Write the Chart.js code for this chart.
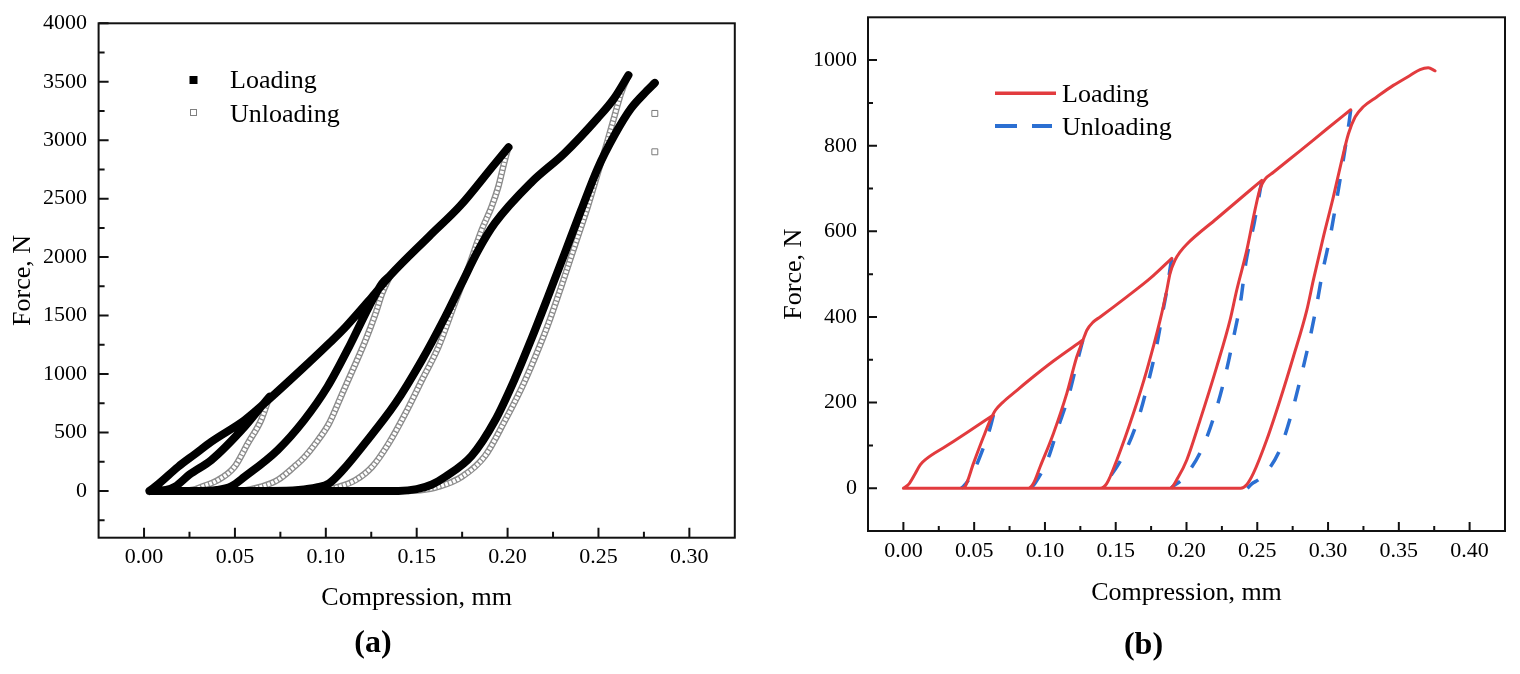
<!DOCTYPE html>
<html>
<head>
<meta charset="utf-8">
<script src="https://cdn.jsdelivr.net/npm/chart.js@4.4.1/dist/chart.umd.min.js"></script>
<style>
  html, body { margin: 0; padding: 0; background: #fff; }
  body { width: 1520px; height: 674px; position: relative; overflow: hidden; }
  .panel { position: absolute; top: 0; height: 674px; }
</style>
</head>
<body>
<div class="panel" style="left:0;width:740px"><canvas id="chartA" width="740" height="674"></canvas></div>
<div class="panel" style="left:760px;width:760px"><canvas id="chartB" width="760" height="674"></canvas></div>
<script>
// ---------------- Panel (a) data: [compression mm, force N] ----------------
const aLoadE  = [[0.003,0],[0.008,60],[0.0188,207],[0.028,315],[0.037,421],[0.0553,606],[0.0662,749],[0.0863,1034],[0.1018,1262],[0.111,1405],[0.1255,1661],[0.1355,1845],[0.157,2180],[0.174,2440],[0.192,2780],[0.2005,2940]];
const aLoadR1 = [[0.003,0],[0.012,8],[0.017,36],[0.025,140],[0.037,264],[0.0553,549],[0.0644,720],[0.069,806]];
const aLoadR2 = [[0.003,0],[0.03,0],[0.04,8],[0.048,40],[0.0553,121],[0.0735,350],[0.0881,606],[0.1009,891],[0.1128,1233],[0.1237,1575],[0.131,1776],[0.1355,1845]];
const aLoadR3 = [[0.003,0],[0.07,0],[0.085,8],[0.095,30],[0.1018,65],[0.11,190],[0.12,378],[0.1383,749],[0.1529,1120],[0.1657,1490],[0.1748,1776],[0.1839,2060],[0.193,2290],[0.2131,2640],[0.2314,2890],[0.2496,3190],[0.2587,3360],[0.2665,3557]];
const aLoadR4 = [[0.003,0],[0.14,0],[0.15,15],[0.1584,55],[0.1657,121],[0.1802,300],[0.193,600],[0.204,960],[0.2131,1300],[0.2222,1660],[0.2314,2032],[0.2405,2403],[0.2496,2760],[0.2587,3040],[0.2678,3270],[0.2765,3420],[0.281,3490]];

const aUnload1 = [[0.069,806],[0.0644,606],[0.0571,407],[0.0498,207],[0.0407,93],[0.0316,36],[0.027,10],[0.02,0]];
const aUnload2 = [[0.1355,1845],[0.131,1690],[0.1274,1519],[0.1219,1291],[0.1164,1091],[0.1091,835],[0.1018,578],[0.095,420],[0.088,285],[0.0826,207],[0.0735,93],[0.0644,36],[0.055,5],[0.048,0]];
const aUnload3 = [[0.2005,2940],[0.1985,2830],[0.1949,2602],[0.1912,2431],[0.1857,2231],[0.1784,1910],[0.1711,1610],[0.162,1233],[0.1529,949],[0.1438,664],[0.1346,407],[0.1255,207],[0.1164,93],[0.1073,36],[0.098,8],[0.09,0]];
const aUnload4 = [[0.2665,3557],[0.2624,3400],[0.2587,3200],[0.2551,3001],[0.2496,2716],[0.2441,2431],[0.2368,2089],[0.2295,1747],[0.2222,1420],[0.2149,1135],[0.2076,877],[0.1985,600],[0.1876,300],[0.1748,121],[0.162,36],[0.152,5],[0.145,0]];
const aUnload5 = [[0.281,3229],[0.281,2901]];

const aXTicks = [0, 0.05, 0.10, 0.15, 0.20, 0.25, 0.30];
const aXMinor = [0.025, 0.075, 0.125, 0.175, 0.225, 0.275];
const aYTicks = [0, 500, 1000, 1500, 2000, 2500, 3000, 3500, 4000];
const aYMinor = [-250, 250, 750, 1250, 1750, 2250, 2750, 3250, 3750];

// ---------------- Panel (b) data ----------------
const bLoad0 = [[0,0],[0.004,10],[0.008,32],[0.012,55],[0.016,68],[0.03,98],[0.045,130],[0.0636,171]];
const bLoad1 = [[0,0],[0.0412,0],[0.0436,4],[0.0495,58],[0.0566,120],[0.0615,160],[0.065,182],[0.07,200],[0.08,228],[0.0872,248],[0.106,297],[0.1268,346]];
const bLoad2 = [[0,0],[0.0884,0],[0.092,12],[0.0966,50],[0.106,128],[0.1155,222],[0.1225,307],[0.1268,345],[0.1296,369],[0.134,388],[0.139,400],[0.1578,447],[0.1743,490],[0.1896,537]];
const bLoad3 = [[0,0],[0.139,0],[0.1435,10],[0.1508,66],[0.1625,175],[0.172,276],[0.1814,393],[0.1861,463],[0.1884,502],[0.1919,533],[0.1955,552],[0.2002,570],[0.2214,630],[0.2449,696],[0.2532,719]];
const bLoad4 = [[0,0],[0.1884,0],[0.194,25],[0.2002,66],[0.2096,159],[0.2214,284],[0.2308,393],[0.2355,463],[0.2426,556],[0.2484,650],[0.252,700],[0.2555,722],[0.2614,738],[0.2802,788],[0.2991,839],[0.316,884]];
const bLoad5 = [[0,0],[0.2383,0],[0.2425,8],[0.2473,35],[0.2567,113],[0.2661,206],[0.2755,307],[0.285,416],[0.2896,486],[0.2967,587],[0.3037,680],[0.3097,766],[0.3144,828],[0.3191,867],[0.3249,891],[0.3344,914],[0.3461,941],[0.3579,964],[0.365,978],[0.3708,982],[0.3756,975]];

const bUnload1 = [[0.0636,171],[0.062,150],[0.0601,128],[0.0554,85],[0.0507,47],[0.046,19],[0.0424,4],[0.041,0]];
const bUnload2 = [[0.1268,346],[0.1237,307],[0.1166,214],[0.1095,144],[0.1018,66],[0.0931,12],[0.09,0]];
const bUnload3 = [[0.1896,537],[0.1885,515],[0.1865,470],[0.1837,420],[0.179,334],[0.1731,249],[0.166,163],[0.1559,80],[0.143,13],[0.14,0]];
const bUnload4 = [[0.2532,719],[0.252,696],[0.2479,621],[0.2419,526],[0.2383,438],[0.2331,350],[0.2273,262],[0.2202,176],[0.2115,96],[0.1978,23],[0.1907,5],[0.189,0]];
const bUnload5 = [[0.316,884],[0.315,858],[0.3113,778],[0.3066,684],[0.3019,595],[0.2963,508],[0.2915,420],[0.2861,334],[0.2797,245],[0.2732,163],[0.2649,82],[0.252,23],[0.2461,10],[0.243,0]];

const bXTicks = [0, 0.05, 0.10, 0.15, 0.20, 0.25, 0.30, 0.35, 0.40];
const bXMinor = [0.025, 0.075, 0.125, 0.175, 0.225, 0.275, 0.325, 0.375];
const bYTicks = [0, 200, 400, 600, 800, 1000];
const bYMinor = [100, 300, 500, 700, 900];

// ---------------- helpers ----------------
function joinSegments(segs) {
  const out = [];
  segs.forEach((s, i) => {
    if (i > 0) out.push({ x: s[0][0], y: null });
    s.forEach(p => out.push({ x: p[0], y: p[1] }));
  });
  return out;
}
function toPoints(seg) { return seg.map(p => ({ x: p[0], y: p[1] })); }
function setTicks(values) { return scale => { scale.ticks = values.map(v => ({ value: v })); }; }
function fixSize(prop, size) {
  return scale => {
    scale[prop] = size;
    scale.paddingTop = 0; scale.paddingBottom = 0;
    scale.paddingLeft = 0; scale.paddingRight = 0;
  };
}

Chart.defaults.font.family = "'Liberation Serif', 'Times New Roman', serif";
Chart.defaults.color = '#000';

const frameTicks = {
  id: 'frameTicks',
  afterDatasetsDraw(chart, args, opts) {
    const { ctx, chartArea: a, scales: { x, y } } = chart;
    ctx.save();
    ctx.strokeStyle = '#111';
    ctx.lineWidth = 2;
    ctx.beginPath();
    x.ticks.forEach(t => { const p = x.getPixelForValue(t.value); ctx.moveTo(p, a.bottom); ctx.lineTo(p, a.bottom - opts.major); });
    opts.xMinor.forEach(v => { const p = x.getPixelForValue(v); ctx.moveTo(p, a.bottom); ctx.lineTo(p, a.bottom - opts.minor); });
    y.ticks.forEach(t => { const p = y.getPixelForValue(t.value); ctx.moveTo(a.left, p); ctx.lineTo(a.left + opts.major, p); });
    opts.yMinor.forEach(v => { const p = y.getPixelForValue(v); ctx.moveTo(a.left, p); ctx.lineTo(a.left + opts.minor, p); });
    ctx.stroke();
    ctx.strokeRect(a.left, a.top, a.right - a.left, a.bottom - a.top);
    ctx.restore();
  }
};

const innerLegend = {
  id: 'innerLegend',
  afterDraw(chart, args, opts) {
    const ctx = chart.ctx;
    ctx.save();
    opts.items.forEach(it => {
      const ds = chart.data.datasets[it.dataset];
      if (it.kind === 'filled') {
        ctx.fillStyle = '#000';
        ctx.fillRect(it.sx - it.size / 2, it.sy - it.size / 2, it.size, it.size);
      } else if (it.kind === 'hollow') {
        ctx.fillStyle = '#fff';
        ctx.strokeStyle = '#808080';
        ctx.lineWidth = 1;
        ctx.fillRect(it.sx - it.size / 2, it.sy - it.size / 2, it.size, it.size);
        ctx.strokeRect(it.sx - it.size / 2 + 0.5, it.sy - it.size / 2 + 0.5, it.size - 1, it.size - 1);
      } else if (it.kind === 'line') {
        ctx.strokeStyle = ds.borderColor;
        ctx.lineWidth = it.width;
        ctx.setLineDash(it.dash || []);
        ctx.beginPath();
        ctx.moveTo(it.x1, it.sy);
        ctx.lineTo(it.x2, it.sy);
        ctx.stroke();
        ctx.setLineDash([]);
      }
      ctx.fillStyle = '#000';
      ctx.font = opts.font;
      ctx.textBaseline = 'alphabetic';
      ctx.textAlign = 'left';
      ctx.fillText(ds.label, it.tx, it.ty);
    });
    ctx.restore();
  }
};

// ---------------- Chart (a) ----------------
const aLoadingData = joinSegments([aLoadE, aLoadR1, aLoadR2, aLoadR3, aLoadR4]);
const aUnloadingData = joinSegments([aUnload1, aUnload2, aUnload3, aUnload4]);

new Chart(document.getElementById('chartA'), {
  type: 'scatter',
  data: {
    datasets: [
      { label: 'Loading', data: aLoadingData, showLine: true, borderColor: '#000', backgroundColor: '#000',
        borderWidth: 8, pointRadius: 0, cubicInterpolationMode: 'monotone', borderCapStyle: 'round', borderJoinStyle: 'round' },
      { label: 'Unloading', data: aUnloadingData, showLine: true, borderColor: '#ffffff',
        borderWidth: 3.8, borderDash: [2.8, 1.3], pointRadius: 0, cubicInterpolationMode: 'monotone' },
      { label: 'Unloading', data: aUnloadingData, showLine: true, borderColor: '#8c8c8c',
        borderWidth: 6.5, pointRadius: 0, cubicInterpolationMode: 'monotone' },
      { label: 'Unloading', data: toPoints(aUnload5), showLine: false, pointStyle: 'rect', pointRadius: 4.2,
        pointBackgroundColor: '#fff', pointBorderColor: '#7a7a7a', pointBorderWidth: 1 }
    ]
  },
  options: {
    responsive: false,
    animation: false,
    layout: { padding: { left: 8, top: 23.3, right: 2, bottom: 0 } },
    scales: {
      x: {
        type: 'linear', min: -0.025, max: 0.325,
        grid: { display: false, drawTicks: false }, border: { display: false },
        ticks: { font: { size: 22 }, padding: 6.7, maxRotation: 0, autoSkip: false, color: '#000',
                 callback: v => Number(v).toFixed(2) },
        afterBuildTicks: setTicks(aXTicks),
        afterFit: fixSize('height', 80.1),
        title: { display: true, text: 'Compression, mm', font: { size: 26 }, color: '#000', padding: { top: 0, bottom: 4.0 } }
      },
      y: {
        type: 'linear', min: -400, max: 4000,
        grid: { display: false, drawTicks: false }, border: { display: false },
        ticks: { font: { size: 22 }, padding: 11.6, color: '#000', callback: v => String(v) },
        afterBuildTicks: setTicks(aYTicks),
        afterFit: fixSize('width', 90.6),
        title: { display: true, text: 'Force, N', font: { size: 26, lineHeight: 0.8 }, color: '#000', padding: { top: 4.3, bottom: 0 } }
      }
    },
    plugins: {
      legend: { display: false },
      tooltip: { enabled: false },
      title: { display: true, position: 'bottom', text: '(a)', color: '#000',
               font: { size: 32, weight: 'bold' }, padding: { top: 7, bottom: 10.8 } },
      frameTicks: { major: 10, minor: 6, xMinor: aXMinor, yMinor: aYMinor },
      innerLegend: {
        font: "26px 'Liberation Serif', 'Times New Roman', serif",
        items: [
          { dataset: 0, kind: 'filled', sx: 193.5, sy: 80, size: 8, tx: 230, ty: 88.4 },
          { dataset: 2, kind: 'hollow', sx: 193.5, sy: 112.5, size: 7, tx: 230, ty: 121.7 }
        ]
      }
    }
  },
  plugins: [frameTicks, innerLegend]
});

// ---------------- Chart (b) ----------------
const bLoadingData = joinSegments([bLoad0, bLoad1, bLoad2, bLoad3, bLoad4, bLoad5]);
const bUnloadingData = joinSegments([bUnload1, bUnload2, bUnload3, bUnload4, bUnload5]);

new Chart(document.getElementById('chartB'), {
  type: 'scatter',
  data: {
    datasets: [
      { label: 'Loading', data: bLoadingData, showLine: true, borderColor: '#e23b3e',
        borderWidth: 3, pointRadius: 0, cubicInterpolationMode: 'monotone', borderCapStyle: 'round', borderJoinStyle: 'round' },
      { label: 'Unloading', data: bUnloadingData, showLine: true, borderColor: '#2b6fd2',
        borderWidth: 3.5, borderDash: [17, 18], pointRadius: 0, cubicInterpolationMode: 'monotone' }
    ]
  },
  options: {
    responsive: false,
    animation: false,
    layout: { padding: { left: 22, top: 17.3, right: 15, bottom: 0 } },
    scales: {
      x: {
        type: 'linear', min: -0.025, max: 0.425,
        grid: { display: false, drawTicks: false }, border: { display: false },
        ticks: { font: { size: 22 }, padding: 7.4, maxRotation: 0, autoSkip: false, color: '#000',
                 callback: v => Number(v).toFixed(2) },
        afterBuildTicks: setTicks(bXTicks),
        afterFit: fixSize('height', 88.8),
        title: { display: true, text: 'Compression, mm', font: { size: 26 }, color: '#000', padding: { top: 0, bottom: 11.3 } }
      },
      y: {
        type: 'linear', min: -100, max: 1100,
        grid: { display: false, drawTicks: false }, border: { display: false },
        ticks: { font: { size: 22 }, padding: 11, color: '#000', callback: v => String(v) },
        afterBuildTicks: setTicks(bYTicks),
        afterFit: fixSize('width', 86),
        title: { display: true, text: 'Force, N', font: { size: 26, lineHeight: 0.8 }, color: '#000', padding: { top: 1.8, bottom: 0 } }
      }
    },
    plugins: {
      legend: { display: false },
      tooltip: { enabled: false },
      title: { display: true, position: 'bottom', text: '(b)', color: '#000',
               font: { size: 32, weight: 'bold' }, padding: { top: 7, bottom: 8.8 } },
      frameTicks: { major: 9, minor: 5, xMinor: bXMinor, yMinor: bYMinor },
      innerLegend: {
        font: "26px 'Liberation Serif', 'Times New Roman', serif",
        items: [
          { dataset: 0, kind: 'line', x1: 235, x2: 296, sy: 93.3, width: 3.5, tx: 302, ty: 101.7 },
          { dataset: 1, kind: 'line', x1: 235, x2: 292, sy: 126, width: 4, dash: [22, 15], tx: 302, ty: 135 }
        ]
      }
    }
  },
  plugins: [frameTicks, innerLegend]
});
</script>
</body>
</html>
